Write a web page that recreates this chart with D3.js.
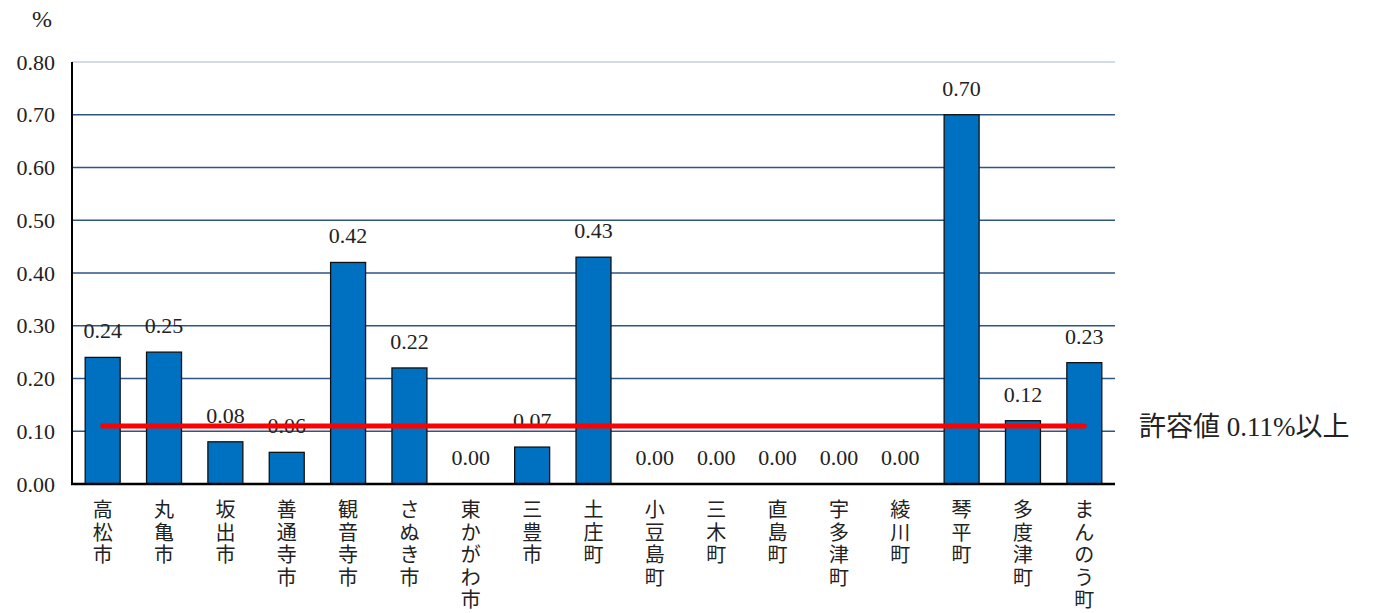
<!DOCTYPE html>
<html><head><meta charset="utf-8">
<script src="https://cdn.jsdelivr.net/npm/d3@7"></script>
<style>body{margin:0;background:#fff}svg{display:block}</style>
</head><body><svg id="c" width="1380" height="613"></svg>
<script>
const categories=["高松市","丸亀市","坂出市","善通寺市","観音寺市","さぬき市","東かがわ市","三豊市","土庄町","小豆島町","三木町","直島町","宇多津町","綾川町","琴平町","多度津町","まんのう町"];
const values=[0.24,0.25,0.08,0.06,0.42,0.22,0.00,0.07,0.43,0.00,0.00,0.00,0.00,0.00,0.70,0.12,0.23];
const yTicks=[0,0.1,0.2,0.3,0.4,0.5,0.6,0.7,0.8];
const threshold=0.11;
const thresholdLabel="許容値 0.11%以上";
const unitLabel="%";

const SERIF="'Liberation Serif', 'Times New Roman', Times, serif";
const CJK="'Noto Sans CJK JP', sans-serif";
const svg=d3.select("#c");
const L=72,R=1115,T=62,B=484;
const x=d3.scaleBand().domain(categories).range([L,R]).paddingInner(0.43).paddingOuter(0.215);
const y=d3.scaleLinear().domain([0,0.8]).range([B,T]);

// gridlines
svg.append("g").selectAll("line").data(yTicks.filter(d=>d>0)).join("line")
 .attr("x1",L).attr("x2",R).attr("y1",d=>y(d)).attr("y2",d=>y(d))
 .attr("stroke",d=>d===0.8?"#c5d0dc":"#2e5586").attr("stroke-width",1.5);

// y tick labels
const ya=d3.axisLeft(y).tickValues(yTicks).tickFormat(d3.format(".2f")).tickSize(0).tickPadding(17);
const yg=svg.append("g").attr("transform",`translate(${L},0)`).call(ya);
yg.select(".domain").remove();
yg.attr("font-family",SERIF).attr("font-size",22);
yg.selectAll("text").attr("fill","#222");

svg.append("text").attr("x",42).attr("y",27).attr("text-anchor","middle")
 .attr("font-family",SERIF).attr("font-size",24).attr("fill","#222").text(unitLabel);

// bars
svg.append("g").selectAll("rect").data(values).join("rect")
 .attr("x",(d,i)=>x(categories[i])).attr("width",x.bandwidth())
 .attr("y",d=>y(d)).attr("height",d=>B-y(d))
 .attr("fill","#0070c0").attr("stroke","#111").attr("stroke-width",1.3);

// value labels
svg.append("g").selectAll("text").data(values).join("text")
 .attr("x",(d,i)=>x(categories[i])+x.bandwidth()/2)
 .attr("y",d=>y(d)-19).attr("text-anchor","middle")
 .attr("font-family",SERIF).attr("font-size",22).attr("fill","#222")
 .text(d=>d3.format(".2f")(d));

// axes lines
svg.append("line").attr("x1",L).attr("x2",L).attr("y1",T).attr("y2",B).attr("stroke","#000").attr("stroke-width",2);
svg.append("line").attr("x1",L-1).attr("x2",R).attr("y1",B).attr("y2",B).attr("stroke","#000").attr("stroke-width",2.5);

// threshold line
const x0=x(categories[0])+x.bandwidth()/2, x1=x(categories[categories.length-1])+x.bandwidth()/2;
svg.append("line").attr("x1",x0).attr("x2",x1).attr("y1",y(threshold)).attr("y2",y(threshold))
 .attr("stroke","#ff0000").attr("stroke-width",5).attr("stroke-linecap","round");
svg.append("text").attr("x",1139).attr("y",y(threshold)+10)
 .attr("font-family",SERIF+", "+CJK).attr("font-size",27).attr("fill","#222").text(thresholdLabel);

// vertical category labels: one text per character, stacked
const catChars=categories.flatMap(c=>Array.from(c).map((ch,k)=>({c,ch,k})));
svg.append("g").selectAll("text").data(catChars).join("text")
 .attr("x",d=>x(d.c)+x.bandwidth()/2).attr("y",d=>517+d.k*22.6)
 .attr("text-anchor","middle")
 .attr("font-family",CJK).attr("font-size",20)
 .attr("fill","#222").text(d=>d.ch);
</script></body></html>
